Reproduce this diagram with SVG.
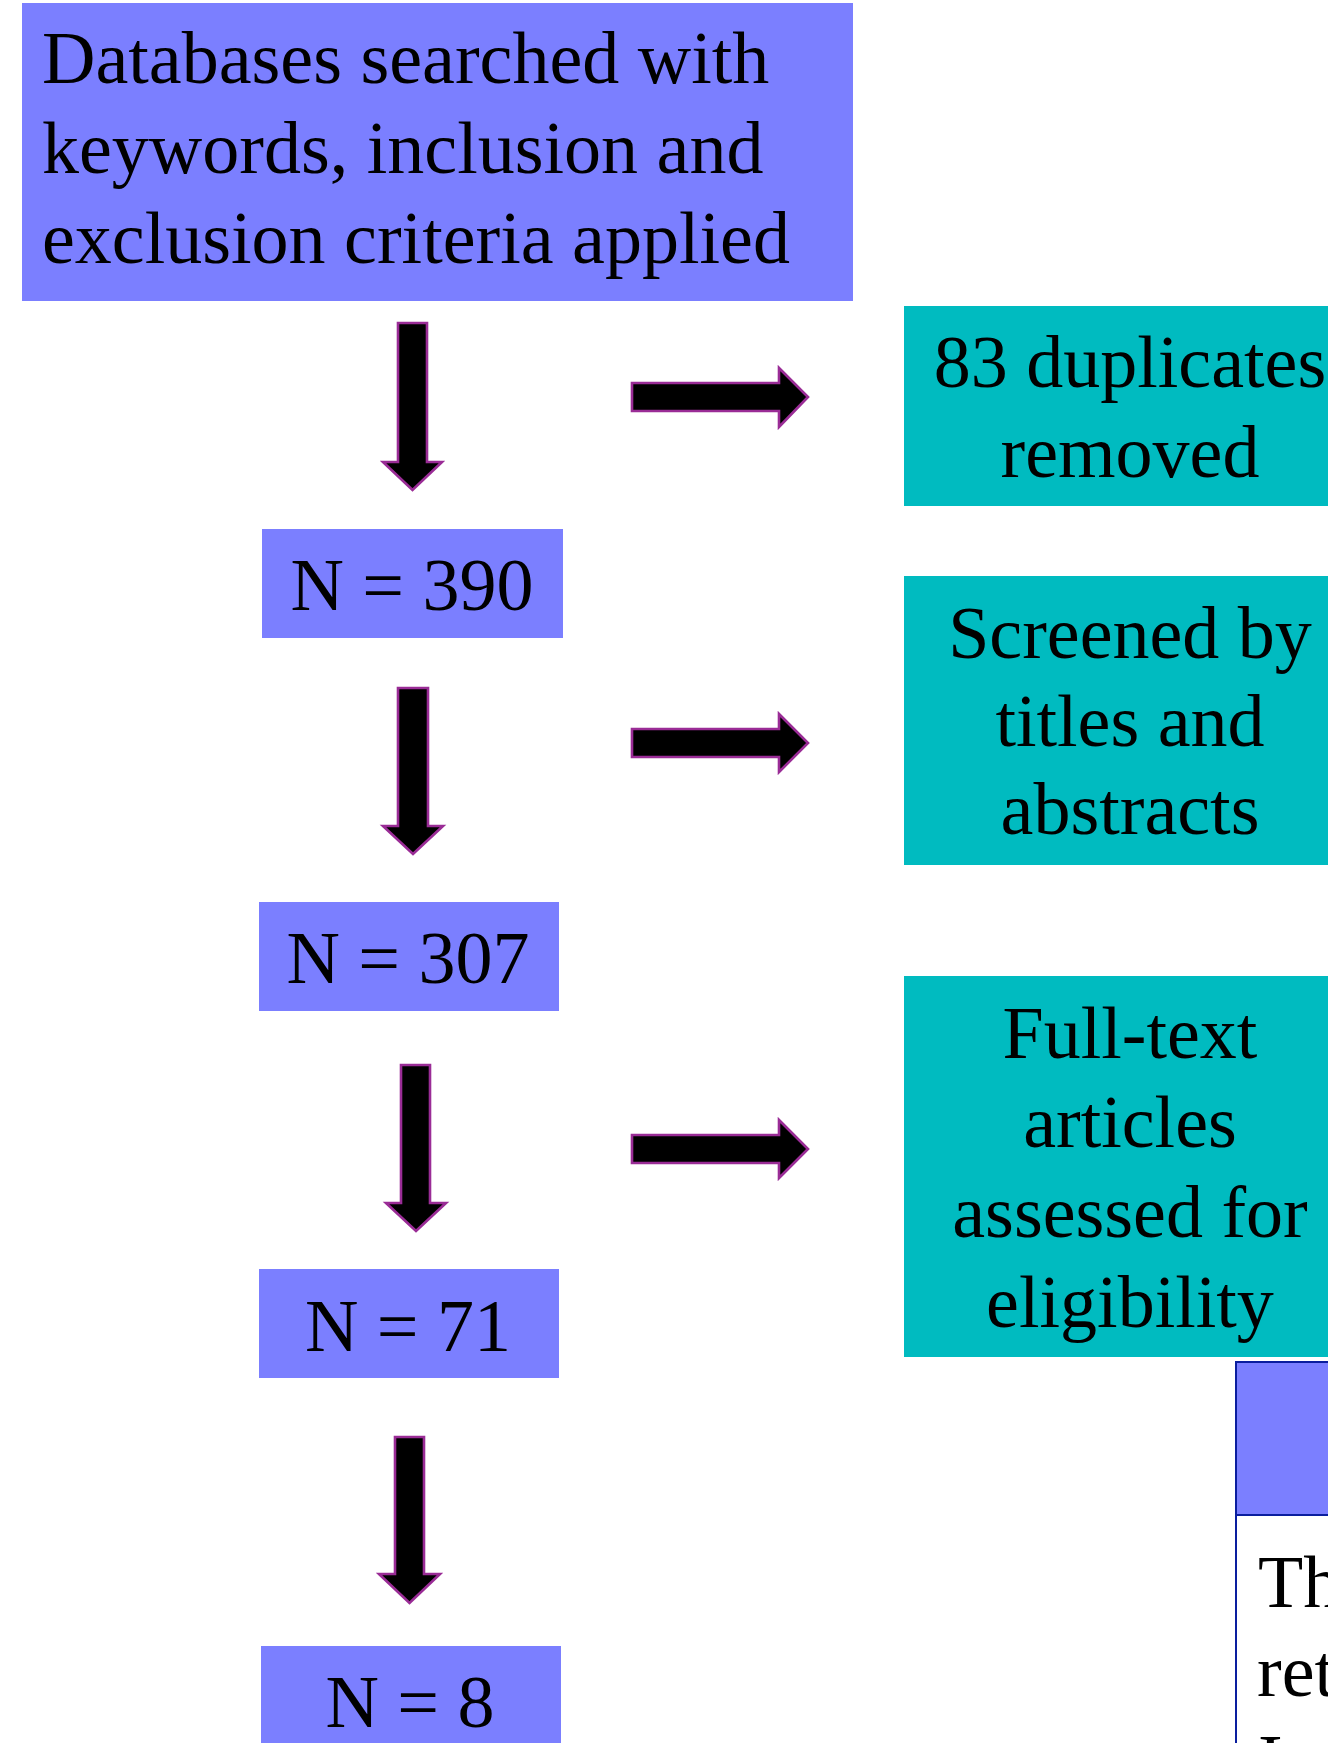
<svg xmlns="http://www.w3.org/2000/svg" width="1328" height="1743" viewBox="0 0 1328 1743">
<style>
.blue{fill:#7B7FFF}
.teal{fill:#00BBC0}
.t{font-family:"Liberation Serif","Times New Roman",serif;font-size:74px;fill:#000}
.m{text-anchor:middle}
.arr{fill:#000;stroke:#9A2C96;stroke-width:2.6;stroke-linejoin:miter}
.tbl{stroke:#0A1E9E;stroke-width:2}
</style>
<rect width="1328" height="1743" fill="#fff"/>
<g id="n-search">
<rect class="blue" x="22" y="3" width="831" height="298"/>
<text class="t" x="42" y="83">Databases searched with</text>
<text class="t" x="42" y="173">keywords, inclusion and</text>
<text class="t" x="42" y="263">exclusion criteria applied</text>
</g>
<g id="n-390">
<rect class="blue" x="262" y="529" width="301" height="109"/>
<text class="t m" x="412" y="610">N = 390</text>
</g>
<g id="n-307">
<rect class="blue" x="259" y="902" width="300" height="109"/>
<text class="t m" x="408" y="983">N = 307</text>
</g>
<g id="n-71">
<rect class="blue" x="259" y="1269" width="300" height="109"/>
<text class="t m" x="408" y="1351">N = 71</text>
</g>
<g id="n-8">
<rect class="blue" x="261" y="1646" width="300" height="110"/>
<text class="t m" x="410" y="1727">N = 8</text>
</g>
<g id="n-dup">
<rect class="teal" x="904" y="306" width="451" height="200"/>
<text class="t m" x="1130" y="387">83 duplicates</text>
<text class="t m" x="1130" y="477">removed</text>
</g>
<g id="n-screen">
<rect class="teal" x="904" y="576" width="451" height="289"/>
<text class="t m" x="1130" y="658">Screened by</text>
<text class="t m" x="1130" y="746">titles and</text>
<text class="t m" x="1130" y="834">abstracts</text>
</g>
<g id="n-full">
<rect class="teal" x="904" y="976" width="451" height="381"/>
<text class="t m" x="1130" y="1058">Full-text</text>
<text class="t m" x="1130" y="1147">articles</text>
<text class="t m" x="1130" y="1237">assessed for</text>
<text class="t m" x="1130" y="1327">eligibility</text>
</g>
<g id="n-table">
<rect class="blue tbl" x="1236" y="1362" width="200" height="153"/>
<rect class="tbl" fill="#fff" x="1236" y="1515" width="200" height="300"/>
<text class="t" x="1258" y="1607">Th</text>
<text class="t" x="1257" y="1696">ret</text>
<text class="t" x="1258" y="1786">I</text>
</g>
<g id="connectors">
<polygon class="arr" points="398,323 427,323 427,462 442,462 412.5,490 383,462 398,462"/>
<polygon class="arr" points="398,688 428,688 428,826 443,826 413,854 383,826 398,826"/>
<polygon class="arr" points="401,1065 430,1065 430,1203 446,1203 416,1231 386,1203 401,1203"/>
<polygon class="arr" points="395,1437 424,1437 424,1574 440,1574 409.5,1603 379,1574 395,1574"/>
<polygon class="arr" points="632,383 779,383 779,368 808,397 779,427 779,411 632,411"/>
<polygon class="arr" points="632,729 779,729 779,714 808,743 779,772 779,757 632,757"/>
<polygon class="arr" points="632,1135 779,1135 779,1120 808,1149 779,1178 779,1163 632,1163"/>
</g>
</svg>
